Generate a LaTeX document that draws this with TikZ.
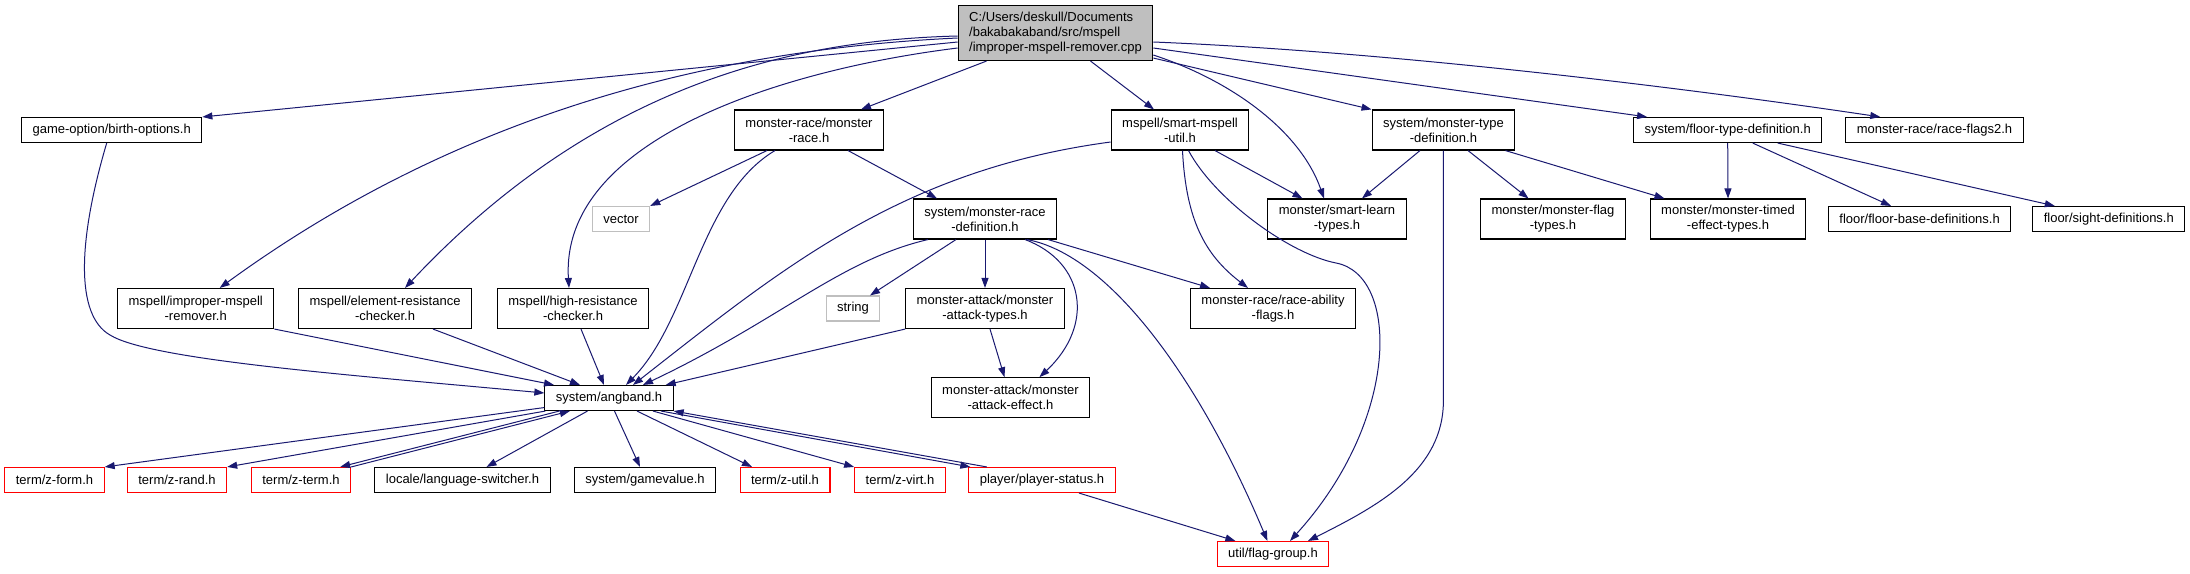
\documentclass[tikz,border=0pt]{standalone}
\usepackage{fontspec}
\setmainfont{Liberation Sans}
\usetikzlibrary{arrows.meta}
\definecolor{edgeblue}{HTML}{191970}
\definecolor{boxgray}{HTML}{BFBFBF}

\begin{document}
\begin{tikzpicture}[
    x=1pt, y=-1pt,
    file/.style={draw, line width=1.1pt, fill=white, font=\fontsize{13pt}{15pt}\selectfont, inner xsep=11pt, inner ysep=0pt, minimum height=25pt, align=center},
    twoline/.style={minimum height=40pt},
    redfile/.style={file, draw=red},
    sysfile/.style={file, draw=boxgray},
    rootfile/.style={file, fill=boxgray, minimum height=55pt, align=left},
    dep/.style={draw=edgeblue, line width=1pt, -{Triangle[length=10pt, width=7pt]}}
  ]
  \fill[white] (0,0) rectangle (2190,573);
  \useasboundingbox (0,0) rectangle (2190,573);

  % Source file
  \node[rootfile] (root) at (1055.5,33) {C:/Users/deskull/Documents\\/bakabakaband/src/mspell\\/improper-mspell-remover.cpp};

  % First level
  \node[file] (birth) at (111.7,130) {game-option/birth-options.h};
  \node[file, twoline] (mrh) at (809,130) {monster-race/monster\\-race.h};
  \node[file, twoline] (smu) at (1180,130) {mspell/smart-mspell\\-util.h};
  \node[file, twoline] (mtd) at (1443.4,130) {system/monster-type\\-definition.h};
  \node[file] (ftd) at (1727.7,130) {system/floor-type-definition.h};
  \node[file] (rf2) at (1934.5,130) {monster-race/race-flags2.h};

  % Second level
  \node[sysfile] (vector) at (621,219) {vector};
  \node[file, twoline] (mrd) at (985,219) {system/monster-race\\-definition.h};
  \node[file, twoline] (slt) at (1337,219) {monster/smart-learn\\-types.h};
  \node[file, twoline] (mft) at (1553,219) {monster/monster-flag\\-types.h};
  \node[file, twoline] (mtet) at (1728,219) {monster/monster-timed\\-effect-types.h};
  \node[file] (fbd) at (1919.6,219) {floor/floor-base-definitions.h};
  \node[file] (sight) at (2108.8,219) {floor/sight-definitions.h};

  % Third level
  \node[file, twoline] (imr) at (195.7,308.5) {mspell/improper-mspell\\-remover.h};
  \node[file, twoline] (erc) at (385,308.5) {mspell/element-resistance\\-checker.h};
  \node[file, twoline] (hrc) at (573,308.5) {mspell/high-resistance\\-checker.h};
  \node[sysfile] (string) at (853,308.5) {string};
  \node[file, twoline] (mat) at (985,308.5) {monster-attack/monster\\-attack-types.h};
  \node[file, twoline] (raf) at (1273,308.5) {monster-race/race-ability\\-flags.h};

  % Core headers
  \node[file] (angband) at (609,398) {system/angband.h};
  \node[file, twoline] (mae) at (1010.5,397.7) {monster-attack/monster\\-attack-effect.h};

  % Bottom row
  \node[redfile] (zform) at (54.5,480) {term/z-form.h};
  \node[redfile] (zrand) at (177,480) {term/z-rand.h};
  \node[redfile] (zterm) at (301,480) {term/z-term.h};
  \node[file] (lang) at (462.5,480) {locale/language-switcher.h};
  \node[file] (gamevalue) at (645,480) {system/gamevalue.h};
  \node[redfile] (zutil) at (785,480) {term/z-util.h};
  \node[redfile] (zvirt) at (900,480) {term/z-virt.h};
  \node[redfile] (pstat) at (1042,480) {player/player-status.h};
  \node[redfile] (flag) at (1273,554) {util/flag-group.h};

  % Includes of the source file
  \draw[dep] ([yshift=-9pt]root.west) -- (birth.north east);
  \draw[dep] ([yshift=-5pt]root.west) .. controls (700,50) and (450,120) .. ([xshift=24pt]imr.north);
  \draw[dep] ([yshift=-3pt]root.west) .. controls (800,40) and (600,80) .. ([xshift=20pt]erc.north);
  \draw[dep] ([yshift=-15pt]root.west) .. controls (780,70) and (560,140) .. ([xshift=-4pt]hrc.north);
  \draw[dep] ([xshift=-69pt]root.south) -- ([xshift=52pt]mrh.north);
  \draw[dep] ([xshift=35pt]root.south) -- ([xshift=-26pt]smu.north);
  \draw[dep] ([yshift=6pt]root.south east) .. controls (1230,80) and (1300,130) .. ([xshift=-13pt]slt.north);
  \draw[dep] ([yshift=3pt]root.south east) -- (mtd.north west);
  \draw[dep] ([yshift=-15pt]root.east) -- ([xshift=14pt]ftd.north west);
  \draw[dep] ([yshift=-9pt]root.east) .. controls (1400,52) and (1700,90) .. ([xshift=35pt]rf2.north west);

  % Into angband
  \draw[dep] ([xshift=-5pt]birth.south) .. controls (78,240) and (75,315) .. (110,335) .. controls (150,360) and (350,375) .. ([yshift=5pt]angband.west);
  \draw[dep] (imr.south east) -- ([xshift=-55pt]angband.north);
  \draw[dep] ([xshift=48pt]erc.south) -- ([xshift=-29pt]angband.north);
  \draw[dep] ([xshift=8pt]hrc.south) -- ([xshift=-5pt]angband.north);

  % monster race
  \draw[dep] ([xshift=-42pt]mrh.south) -- (vector.north east);
  \draw[dep] ([xshift=-34pt]mrh.south) .. controls (700,195) and (690,320) .. ([xshift=17pt]angband.north);
  \draw[dep] ([xshift=39pt]mrh.south) -- ([xshift=-48pt]mrd.north);

  % smart mspell util
  \draw[dep] ([yshift=-12pt]smu.west) .. controls (900,170) and (780,270) .. ([xshift=24pt]angband.north);
  \draw[dep] ([xshift=35pt]smu.south) -- ([xshift=-34.5pt]slt.north);
  \draw[dep] ([xshift=2.5pt]smu.south) .. controls (1186,220) and (1205,255) .. ([xshift=-25pt]raf.north);
  \draw[dep] ([xshift=8.5pt]smu.south) .. controls (1215,200) and (1290,254) .. (1336,263) .. controls (1400,275) and (1400,420) .. ([xshift=17pt]flag.north);

  % monster type definition
  \draw[dep] ([xshift=-23.4pt]mtd.south) -- ([xshift=25pt]slt.north);
  \draw[dep] ([xshift=24.6pt]mtd.south) -- ([xshift=-24.5pt]mft.north);
  \draw[dep] ([xshift=62pt]mtd.south) -- ([xshift=-63.5pt]mtet.north);
  \draw[dep] (mtd.south) -- ++(0,250) .. controls (1443.4,470) and (1380,505) .. ([xshift=35pt]flag.north);

  % floor type definition
  \draw[dep] (ftd.south) -- (mtet.north);
  \draw[dep] ([xshift=25pt]ftd.south) -- ([xshift=-28.6pt]fbd.north);
  \draw[dep] ([xshift=50pt]ftd.south) -- ([xshift=-54pt]sight.north);

  % monster race definition
  \draw[dep] ([xshift=-29pt]mrd.south) -- ([xshift=17pt]string.north);
  \draw[dep] ([xshift=-57pt]mrd.south) .. controls (840,260) and (780,320) .. ([xshift=34pt]angband.north);
  \draw[dep] (mrd.south) -- (mat.north);
  \draw[dep] ([xshift=40pt]mrd.south) .. controls (1085,262) and (1095,325) .. ([xshift=29pt]mae.north);
  \draw[dep] ([xshift=63pt]mrd.south) -- ([xshift=-63pt]raf.north);
  \draw[dep] ([xshift=42pt]mrd.south) .. controls (1110,255) and (1200,380) .. ([xshift=-5.6pt]flag.north);
  \draw[dep] (mat.south west) -- ([xshift=-8pt]angband.north east);
  \draw[dep] ([xshift=5pt]mat.south) -- ([xshift=-6pt]mae.north);

  % Out of angband
  \draw[dep] ([yshift=3.5pt]angband.south west) -- (zform.north east);
  \draw[dep] ([xshift=1pt]angband.south west) -- (zrand.north east);
  \draw[dep] ([xshift=15pt]angband.south west) -- ([xshift=-11pt]zterm.north east);
  \draw[dep] (zterm.north east) -- ([xshift=25.5pt]angband.south west);
  \draw[dep] ([xshift=-21.5pt]angband.south) -- ([xshift=24pt]lang.north);
  \draw[dep] ([xshift=5.5pt]angband.south) -- ([xshift=-5pt]gamevalue.north);
  \draw[dep] ([xshift=28pt]angband.south) -- ([xshift=-33pt]zutil.north);
  \draw[dep] ([xshift=44pt]angband.south) -- (zvirt.north west);
  \draw[dep] ([xshift=52pt]angband.south) -- ([xshift=2pt]pstat.north west);
  \draw[dep] ([xshift=18.5pt]pstat.north west) -- (angband.south east);
  \draw[dep] ([xshift=37pt]pstat.south) -- ([xshift=-37.6pt]flag.north);
\end{tikzpicture}
\end{document}
